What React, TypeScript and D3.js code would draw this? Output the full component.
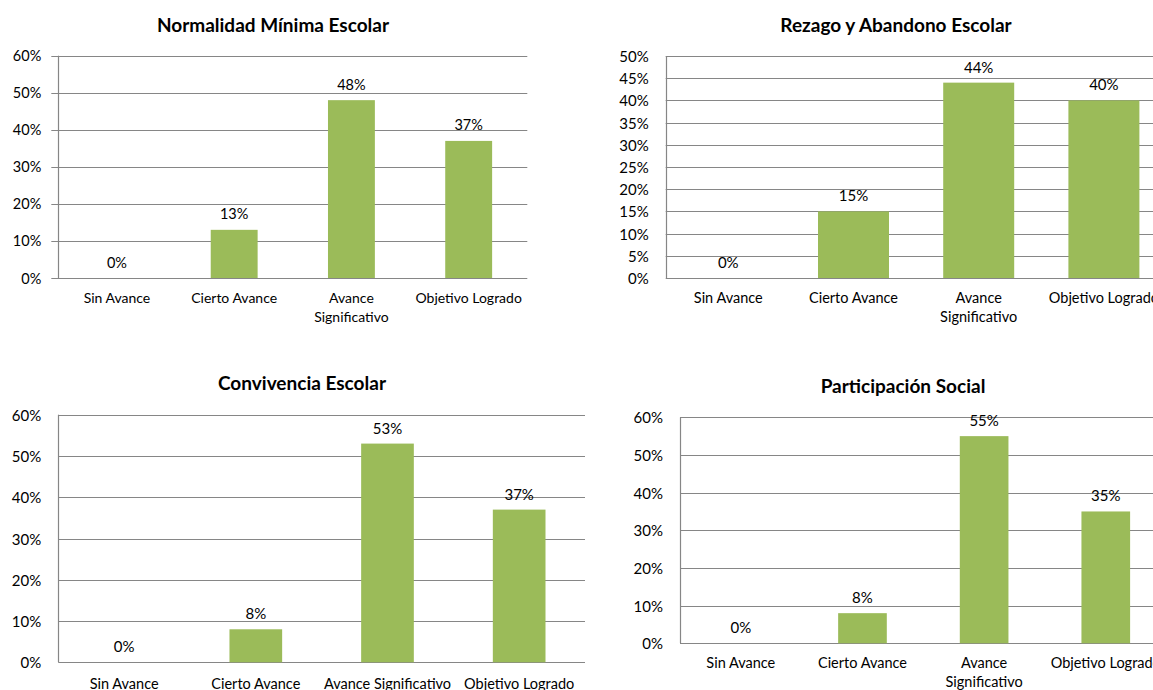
import React from "react";
import * as d3 from "d3";

const categories = ["Sin Avance", "Cierto Avance", "Avance Significativo", "Objetivo Logrado"];
const normalidadValues = [0, 13, 48, 37];
const rezagoValues = [0, 15, 44, 40];
const convivenciaValues = [0, 8, 53, 37];
const participacionValues = [0, 8, 55, 35];
const titles = ["Normalidad Mínima Escolar", "Rezago y Abandono Escolar", "Convivencia Escolar", "Participación Social"];
const ticks60 = [0, 10, 20, 30, 40, 50, 60];
const ticks50 = [0, 5, 10, 15, 20, 25, 30, 35, 40, 45, 50];

const GREEN = "#9BBB59";
const GRID = "#868686";
const FONT = "Lato, Calibri, 'Open Sans', sans-serif";

type Panel = {
  title: string;
  values: number[];
  ticks: number[];
  left: number; right: number; top: number; bottom: number;
  barFrac: number;
  titleX: number; titleY: number;
  outTick: number;
  wrap: boolean;
  labelY: number;
  fontSize: number;
};

const panels: Panel[] = [
  { title: titles[0], values: normalidadValues, ticks: ticks60, left: 58.3, right: 527.3, top: 55.7, bottom: 278, barFrac: 0.4, titleX: 273, titleY: 24, outTick: 7, wrap: true, labelY: 297, fontSize: 14.5 },
  { title: titles[1], values: rezagoValues, ticks: ticks50, left: 665.7, right: 1166.5, top: 56, bottom: 278, barFrac: 0.567, titleX: 896, titleY: 24, outTick: 0, wrap: true, labelY: 297, fontSize: 15 },
  { title: titles[2], values: convivenciaValues, ticks: ticks60, left: 58.3, right: 585, top: 414.7, bottom: 662.3, barFrac: 0.4, titleX: 302, titleY: 382, outTick: 0, wrap: false, labelY: 683, fontSize: 15 },
  { title: titles[3], values: participacionValues, ticks: ticks60, left: 680, right: 1166.6, top: 417.3, bottom: 643.3, barFrac: 0.4, titleX: 903, titleY: 385, outTick: 0, wrap: true, labelY: 662, fontSize: 15 },
];

function ChartPanel({ p }: { p: Panel }) {
  const pad = 1 - p.barFrac;
  const x = d3.scaleBand<string>().domain(categories).range([p.left, p.right]).paddingInner(pad).paddingOuter(pad / 2);
  const maxT = p.ticks[p.ticks.length - 1];
  const y = d3.scaleLinear().domain([0, maxT]).range([p.bottom, p.top]);
  const step = x.step();
  return (
    <g fontFamily={FONT}>
      <text x={p.titleX} y={p.titleY} textAnchor="middle" dominantBaseline="central" fontWeight="bold" fontSize={19} fill="#000">{p.title}</text>
      {p.ticks.map((t) => (
        <g key={t}>
          <line x1={p.left - p.outTick} x2={p.right} y1={Math.round(y(t)) + 0.5} y2={Math.round(y(t)) + 0.5} stroke={GRID} strokeWidth={1.2} />
          <text x={p.left - 17} y={y(t)} textAnchor="end" dominantBaseline="central" fontSize={p.fontSize} fill="#000">{t + "%"}</text>
        </g>
      ))}
      <line x1={Math.round(p.left) + 0.5} x2={Math.round(p.left) + 0.5} y1={y(maxT)} y2={p.bottom} stroke={GRID} strokeWidth={1.2} />
      {categories.map((c, i) => {
        const v = p.values[i];
        const bx = x(c) as number;
        const cx = bx + x.bandwidth() / 2;
        const lines = p.wrap && c === "Avance Significativo" ? ["Avance", "Significativo"] : [c];
        return (
          <g key={c}>
            {v > 0 && <rect x={bx} y={y(v)} width={x.bandwidth()} height={p.bottom - y(v)} fill={GREEN} />}
            <text x={cx} y={y(v) - 16} textAnchor="middle" dominantBaseline="central" fontSize={p.fontSize} fill="#000">{v + "%"}</text>
            {lines.map((l, k) => (
              <text key={l} x={p.left + step * (i + 0.5)} y={p.labelY + k * 19} textAnchor="middle" dominantBaseline="central" fontSize={p.fontSize - 0.5} fill="#000">{l}</text>
            ))}
          </g>
        );
      })}
    </g>
  );
}

export default function App() {
  return (
    <svg width={1153} height={690} style={{ position: "absolute", left: 0, top: 0, display: "block", background: "#fff" }}>
      <rect x={0} y={0} width={1153} height={690} fill="#fff" />
      {panels.map((p, i) => <ChartPanel key={i} p={p} />)}
    </svg>
  );
}
